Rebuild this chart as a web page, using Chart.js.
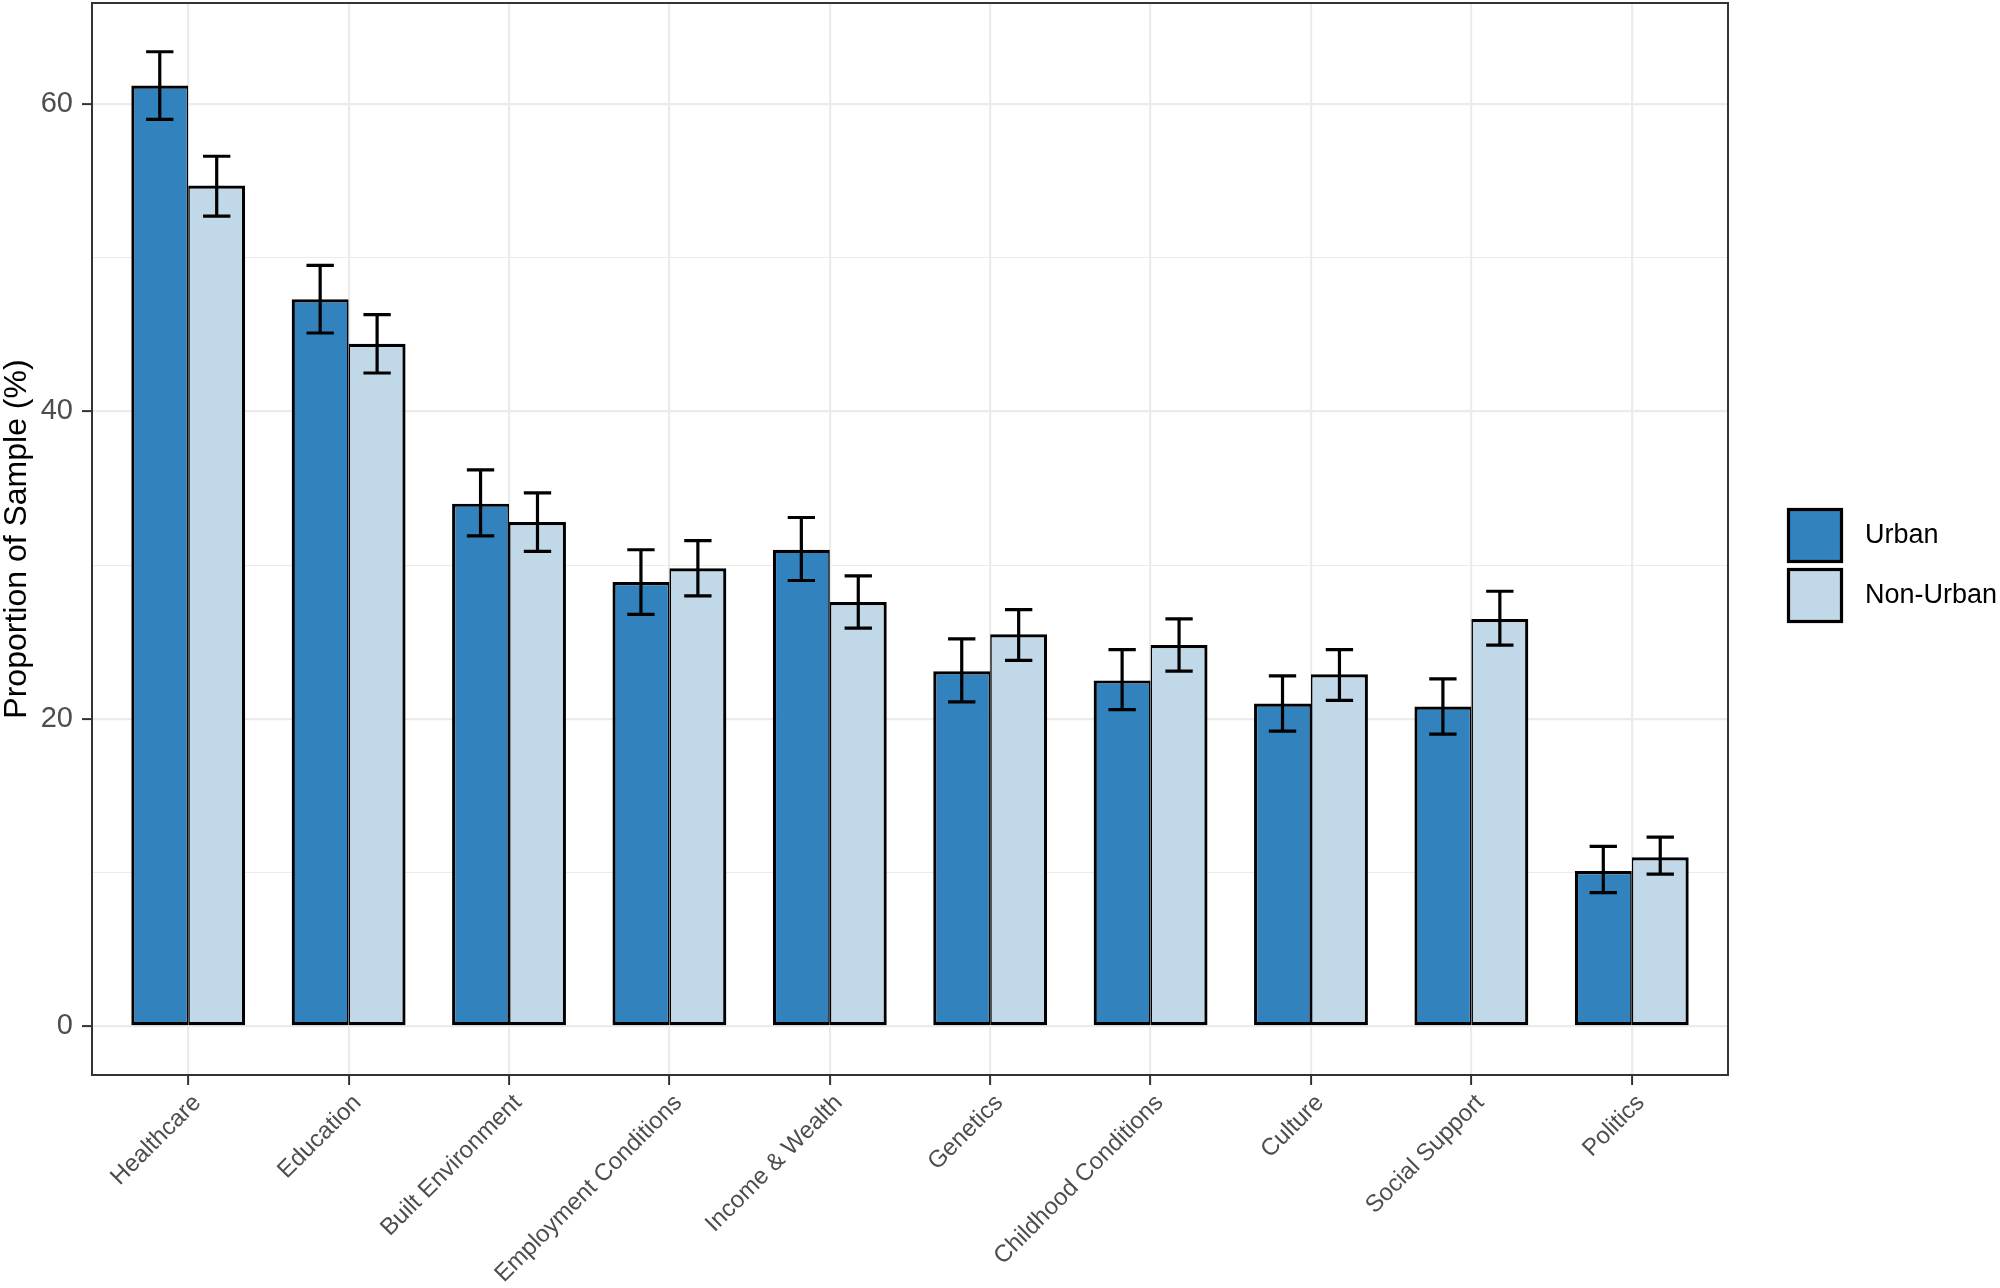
<!DOCTYPE html>
<html>
<head>
<meta charset="utf-8">
<script src="https://cdn.jsdelivr.net/npm/chart.js@4.4.1/dist/chart.umd.min.js"></script>
<style>
  html, body { margin: 0; padding: 0; background: #ffffff; }
  #wrap { width: 2000px; height: 1288px; position: relative; }
  canvas { display: block; }
</style>
</head>
<body>
<div id="wrap"><canvas id="c" width="2000" height="1288"></canvas></div>
<script>
const categories = ['Healthcare', 'Education', 'Built Environment', 'Employment Conditions', 'Income & Wealth',
  'Genetics', 'Childhood Conditions', 'Culture', 'Social Support', 'Politics'];
const seriesNames = ['Urban', 'Non-Urban'];
const urban        = [61.2, 47.3, 34.0, 28.9, 31.0, 23.1, 22.5, 21.0, 20.8, 10.1];
const urbanLow     = [59.0, 45.1, 31.9, 26.8, 29.0, 21.1, 20.6, 19.2, 19.0, 8.7];
const urbanHigh    = [63.4, 49.5, 36.2, 31.0, 33.1, 25.2, 24.5, 22.8, 22.6, 11.7];
const nonUrban     = [54.7, 44.4, 32.8, 29.8, 27.6, 25.5, 24.8, 22.9, 26.5, 11.0];
const nonUrbanLow  = [52.7, 42.5, 30.9, 28.0, 25.9, 23.8, 23.1, 21.2, 24.8, 9.9];
const nonUrbanHigh = [56.6, 46.3, 34.7, 31.6, 29.3, 27.1, 26.5, 24.5, 28.3, 12.3];
const yMajorTicks  = [0, 20, 40, 60];

const FONT = "'Liberation Sans', Arial, Helvetica, sans-serif";
const colors = ['#3182BD', '#C0D8E8'];
const lows = [urbanLow, nonUrbanLow];
const highs = [urbanHigh, nonUrbanHigh];

const yTop = Math.max(...urbanHigh, ...nonUrbanHigh);
const yMin = -yTop * 0.05;
const yMax = yTop * 1.05;

const errorBars = {
  id: 'errorBars',
  afterDatasetsDraw(chart) {
    const ctx = chart.ctx;
    const y = chart.scales.y;
    ctx.save();
    ctx.strokeStyle = '#000000';
    ctx.lineWidth = 3.2;
    ctx.lineCap = 'butt';
    chart.data.datasets.forEach((ds, di) => {
      const meta = chart.getDatasetMeta(di);
      meta.data.forEach((el, i) => {
        const x = el.x;
        const half = el.width * 0.24;
        const yl = y.getPixelForValue(lows[di][i]);
        const yh = y.getPixelForValue(highs[di][i]);
        ctx.beginPath();
        ctx.moveTo(x, yl); ctx.lineTo(x, yh);
        ctx.moveTo(x - half, yl); ctx.lineTo(x + half, yl);
        ctx.moveTo(x - half, yh); ctx.lineTo(x + half, yh);
        ctx.stroke();
      });
    });
    ctx.restore();
  },
  afterDraw(chart) {
    const ctx = chart.ctx;
    const a = chart.chartArea;
    ctx.save();
    ctx.strokeStyle = '#333333';
    ctx.lineWidth = 2;
    ctx.strokeRect(a.left, a.top, a.right - a.left, a.bottom - a.top);
    // legend (ggplot style, right side)
    const keyX = 1787, keyW = 56, keyH = 55, keyY0 = 508, keyStep = 60;
    chart.data.datasets.forEach((ds, di) => {
      const ky = keyY0 + di * keyStep;
      ctx.fillStyle = ds.backgroundColor;
      ctx.fillRect(keyX, ky, keyW, keyH);
      ctx.strokeStyle = '#000000';
      ctx.lineWidth = 3.2;
      ctx.strokeRect(keyX + 1.5, ky + 1.5, keyW - 3, keyH - 3);
      ctx.fillStyle = '#000000';
      ctx.font = '27px ' + FONT;
      ctx.textAlign = 'left';
      ctx.textBaseline = 'middle';
      ctx.fillText(ds.label, 1865, ky + keyH / 2);
    });
    ctx.restore();
  }
};

const mkData = arr => arr.map((v, i) => ({ x: i, y: v }));

new Chart(document.getElementById('c'), {
  type: 'bar',
  data: {
    datasets: [
      {
        label: seriesNames[0], data: mkData(urban), backgroundColor: colors[0], borderColor: '#000000',
        borderWidth: { left: 3.2, right: 1.6, top: 3.2, bottom: 3.2 }, borderSkipped: false
      },
      {
        label: seriesNames[1], data: mkData(nonUrban), backgroundColor: colors[1], borderColor: '#000000',
        borderWidth: { left: 1.6, right: 3.2, top: 3.2, bottom: 3.2 }, borderSkipped: false
      }
    ]
  },
  options: {
    responsive: false,
    animation: false,
    devicePixelRatio: 1,
    categoryPercentage: 0.71,
    barPercentage: 1.0,
    layout: { padding: { top: 3, right: 272, left: 0, bottom: 0 } },
    plugins: { legend: { display: false }, tooltip: { enabled: false } },
    scales: {
      x: {
        type: 'linear',
        min: -0.6,
        max: categories.length - 1 + 0.6,
        offset: false,
        afterBuildTicks: s => { s.ticks = categories.map((c, i) => ({ value: i })); },
        afterFit: s => { s.height = 213; s.paddingLeft = 0; s.paddingRight = 0; },
        border: { display: false },
        grid: {
          offset: false,
          color: '#EBEBEB',
          lineWidth: 2.2,
          drawTicks: true,
          tickLength: 10,
          tickColor: '#333333',
          tickWidth: 2
        },
        ticks: {
          autoSkip: false,
          minRotation: 45,
          maxRotation: 45,
          padding: 4,
          labelOffset: 9,
          color: '#4D4D4D',
          font: { family: FONT, size: 24 },
          callback: v => categories[v]
        }
      },
      y: {
        min: yMin,
        max: yMax,
        afterFit: s => { s.width = 92; s.paddingTop = 0; s.paddingBottom = 0; },
        border: { display: false },
        grid: {
          color: '#EBEBEB',
          lineWidth: c => (yMajorTicks.includes(c.tick.value) ? 2.2 : 1.1),
          tickLength: 10,
          tickColor: c => (yMajorTicks.includes(c.tick.value) ? '#333333' : 'rgba(0,0,0,0)'),
          tickWidth: 2
        },
        ticks: {
          stepSize: 10,
          includeBounds: false,
          padding: 9,
          color: '#4D4D4D',
          font: { family: FONT, size: 29 },
          callback: v => (yMajorTicks.includes(v) ? String(v) : '')
        },
        title: {
          display: true,
          text: 'Proportion of Sample (%)',
          color: '#000000',
          font: { family: FONT, size: 32, lineHeight: 1.1 },
          padding: 0
        }
      }
    }
  },
  plugins: [errorBars]
});
</script>
</body>
</html>
